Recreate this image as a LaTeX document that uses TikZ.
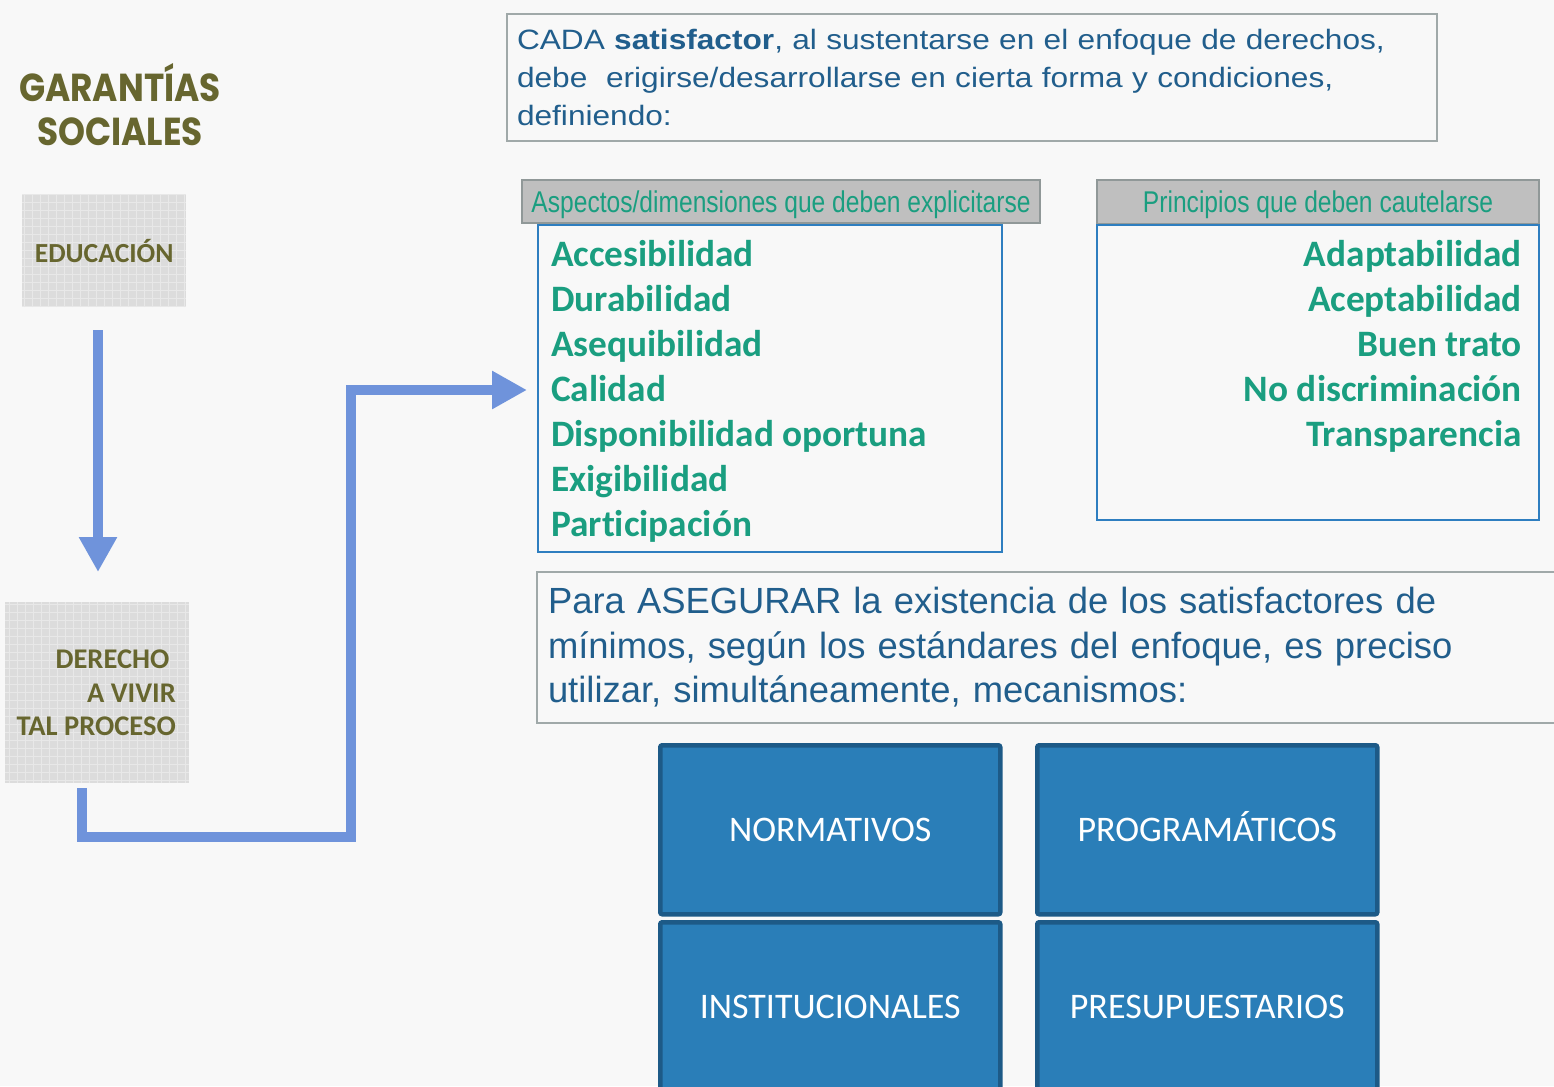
\documentclass[tikz,border=0pt]{standalone}
\usepackage{fontspec}
\setmainfont{Liberation Sans}
\newfontfamily\gothic{Poppins}[FakeStretch=0.88]
\newfontfamily\cali{Carlito}[Ligatures=NoCommon]
\newfontfamily\narrowf{Liberation Sans}[FakeStretch=0.82]
\newfontfamily\arialw{Liberation Sans}[FakeStretch=1.13]
\usetikzlibrary{arrows.meta}
\definecolor{bgc}{HTML}{F8F8F8}
\definecolor{olive}{HTML}{67662F}
\definecolor{tealc}{HTML}{1A9E80}
\definecolor{navy}{HTML}{215E8C}
\definecolor{arrowc}{HTML}{6F93DB}
\definecolor{greyb}{HTML}{A0A9A9}
\definecolor{headf}{HTML}{BFBFBF}
\definecolor{listb}{HTML}{2E7EC0}
\definecolor{boxf}{HTML}{2A7EB8}
\definecolor{boxb}{HTML}{1D5A87}
\definecolor{gridf}{HTML}{DCDCDC}
\definecolor{gridl}{HTML}{E8E8E8}
\tikzset{
  gridbox/.style={fill=gridf, anchor=north west, inner sep=0pt,
    path picture={\draw[gridl, line width=0.8pt, step=8pt] (path picture bounding box.south west) grid (path picture bounding box.north east);}},
  flow/.style={draw=arrowc, line width=10pt, line join=miter},
  tipa/.style={-{Triangle[width=36pt,length=35pt]}},
  textbox/.style={draw=greyb, line width=2pt, fill=bgc, anchor=north west, text=navy, align=left, inner xsep=10pt},
  headbox/.style={draw=greyb!90!black, line width=2pt, fill=headf, anchor=north west, text=tealc, inner sep=0pt, text height=21pt, text depth=0pt},
  listbox/.style={draw=listb, line width=2pt, fill=bgc, anchor=north west, inner sep=0pt},
  mech/.style={draw=boxb, line width=4.5pt, fill=boxf, rounded corners=2pt, anchor=north west, text=white, font=\cali\fontsize{36}{40}\selectfont, inner sep=0pt, minimum width=340, minimum height=169, text height=23pt, text depth=0pt},
}
\begin{document}
\begin{tikzpicture}[x=1pt,y=-1pt]
\useasboundingbox (0,0) rectangle (1554,1086);
\clip (0,0) rectangle (1554,1086);
\fill[bgc] (0,0) rectangle (1554,1086);

% title
\node[text=olive, align=center, font=\gothic\bfseries\fontsize{39}{44}\selectfont] (title) at (120,105) {GARANTÍAS\\SOCIALES};

% left grey boxes
\node[gridbox, minimum width=164, minimum height=113] (edu) at (22,194) {};
\node[text=olive, font=\cali\bfseries\fontsize{27.6}{30}\selectfont] (edulbl) at (edu.center) {EDUCACIÓN};
\node[gridbox, minimum width=184, minimum height=181] (der) at (5,602) {};
\node[text=olive, align=right, anchor=east, inner sep=0pt, font=\cali\bfseries\fontsize{28.5}{33.5}\selectfont] (derlbl) at (176,693) {DERECHO\phantom{ }\\A VIVIR\\TAL PROCESO};

% top text box
\node[textbox, minimum width=930, minimum height=127, text width=910, font=\arialw\fontsize{28}{38}\selectfont] (top) at (506,13)
 {CADA \textbf{satisfactor}, al sustentarse en el enfoque de derechos,\\debe\ \ erigirse/desarrollarse en cierta forma y condiciones,\\definiendo:};

% header boxes
\node[headbox, minimum width=518, minimum height=43, font=\narrowf\fontsize{30}{32}\selectfont] (h1) at (521,179) {Aspectos/dimensiones que deben explicitarse};
\node[headbox, minimum width=442, minimum height=44, font=\narrowf\fontsize{30}{32}\selectfont] (h2) at (1096,179) {Principios que deben cautelarse};

% list boxes
\node[listbox, minimum width=464, minimum height=327] (l1) at (537,224) {};
\node[anchor=base west, align=left, text=tealc, inner sep=0pt, font=\cali\bfseries\fontsize{37.3}{45}\selectfont] (l1txt) at (551,536)
 {Accesibilidad\\Durabilidad\\Asequibilidad\\Calidad\\Disponibilidad oportuna\\Exigibilidad\\Participación};
\node[listbox, minimum width=442, minimum height=295] (l2) at (1096,224) {};
\node[anchor=base east, align=right, text=tealc, inner sep=0pt, font=\cali\bfseries\fontsize{37.3}{45}\selectfont] (l2txt) at (1522,446)
 {Adaptabilidad\\Aceptabilidad\\Buen trato\\No discriminación\\Transparencia};

% second text box
\node[textbox, minimum width=1070, minimum height=151, text width=1050, inner xsep=11pt, font=\fontsize{36.4}{44.5}\selectfont] (para) at (536,571)
 {Para ASEGURAR la existencia de los satisfactores de\\mínimos, según los estándares del enfoque, es preciso\\utilizar, simultáneamente, mecanismos:};

% mechanism boxes
\node[mech] (norm) at (658,743) {NORMATIVOS};
\node[mech] (prog) at (1035,743) {PROGRAMÁTICOS};
\node[mech] (inst) at (658,920) {INSTITUCIONALES};
\node[mech] (pres) at (1035,920) {PRESUPUESTARIOS};

% arrows
\coordinate (d0) at (98,330);
\coordinate (d1) at (98,572);
\draw[flow, tipa] (d0) -- (d1);
\coordinate (e0) at (82,788);
\coordinate (e1) at (351,837);
\coordinate (e2) at (527,390);
\draw[flow, tipa] (e0) |- (e1) |- (e2);
\end{tikzpicture}
\end{document}
